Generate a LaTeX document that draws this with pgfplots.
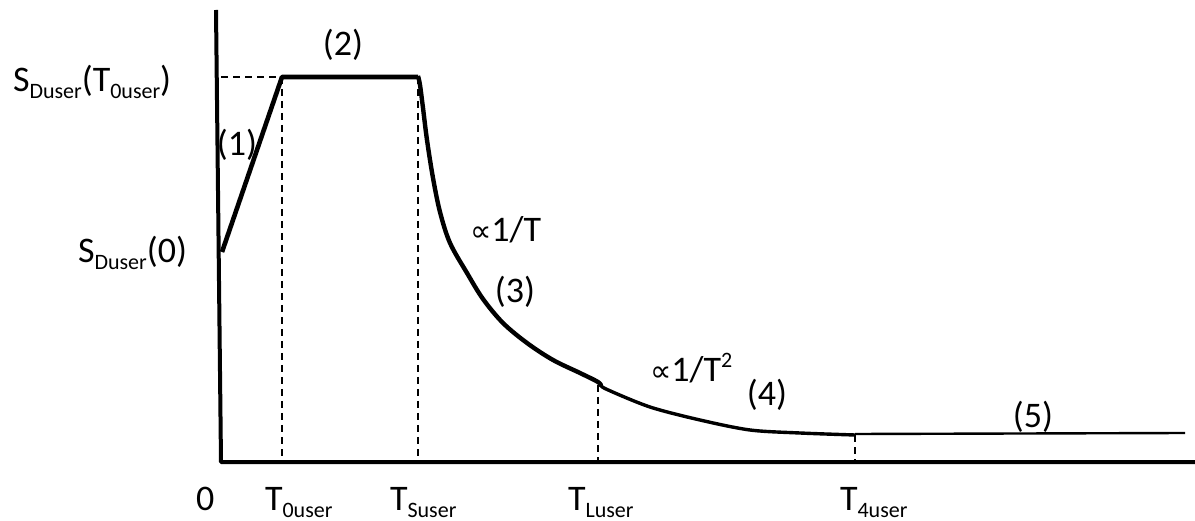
\documentclass[border=0pt]{standalone}
\usepackage{fontspec}
\setmainfont{Carlito}
\newfontfamily\dv{DejaVu Sans}
\usepackage{pgfplots}
\pgfplotsset{compat=1.18}
\newcommand{\sub}[1]{\raisebox{-3.5pt}{\fontsize{11}{12}\selectfont #1}}
\newcommand{\sups}[1]{\raisebox{7pt}{\fontsize{11}{12}\selectfont #1}}
\newcommand{\prop}{{\dv\fontsize{15}{16}\selectfont ∝}}
\tikzset{lbl/.style={font=\fontsize{18}{20}\selectfont, inner sep=0pt, outer sep=0pt},
  guide/.style={black, line width=0.8pt, dash pattern=on 3.5pt off 2.5pt}}
\begin{document}
\begin{tikzpicture}
\begin{axis}[scale only axis, width=597.5pt, height=260pt,
  xmin=0, xmax=1195, ymin=0, ymax=520, axis lines=none, clip=false]
% axes
\addplot[black, line width=2pt, line join=round] coordinates {(216,510) (221,58) (1195,58)};
% dashed guides
\addplot[guide] coordinates {(221,443) (282,443)};
\addplot[guide] coordinates {(282,443) (282,58)};
\addplot[guide] coordinates {(418,443) (418,58)};
\addplot[guide] coordinates {(598,135) (598,58)};
\addplot[guide] coordinates {(855,85) (855,58)};
% spectrum (1)-(2)
\addplot[black, line width=2.3pt, line join=round] coordinates {
(222,268) (282,443) (418,443)};
% (3)
\addplot[black, line width=2.2pt, smooth, tension=0.55] coordinates {
(418,444) (420,435) (423,412) (427,380) (433,342) (440,308) (450,277) (467,247) (483,221) (503,197) (527,177) (553,160) (580,147) (598,138) (601,134)};
% (4)
\addplot[black, line width=1.7pt, smooth, tension=0.5] coordinates {
(600,136) (606,131) (650,113) (700,100) (750,90) (800,87) (855,85)};
% (5)
\addplot[black, line width=1.2pt] coordinates {(855,86) (1185,87)};
% labels
\node[lbl, anchor=base west] at (axis cs:196,10) {0};
\node[lbl, anchor=base west] at (axis cs:265,10) {T\sub{0user}};
\node[lbl, anchor=base west] at (axis cs:390,10) {T\sub{Suser}};
\node[lbl, anchor=base west] at (axis cs:568,10) {T\sub{Luser}};
\node[lbl, anchor=base west] at (axis cs:840,10) {T\sub{4user}};
\node[lbl, anchor=base west] at (axis cs:13,428) {S\sub{Duser}(T\sub{0user})};
\node[lbl, anchor=base west] at (axis cs:78,257) {S\sub{Duser}(0)};
\node[lbl] at (axis cs:237,375) {(1)};
\node[lbl] at (axis cs:343,475) {(2)};
\node[lbl] at (axis cs:515,228) {(3)};
\node[lbl] at (axis cs:767,125) {(4)};
\node[lbl] at (axis cs:1033,103) {(5)};
\node[lbl, anchor=base west] at (axis cs:470,278) {\prop 1/T};
\node[lbl, anchor=base west] at (axis cs:650,138) {\prop 1/T\sups{2}};
\end{axis}
\pgfresetboundingbox
\path[use as bounding box] (current axis.south west) rectangle (current axis.north east);
\end{tikzpicture}
\end{document}
